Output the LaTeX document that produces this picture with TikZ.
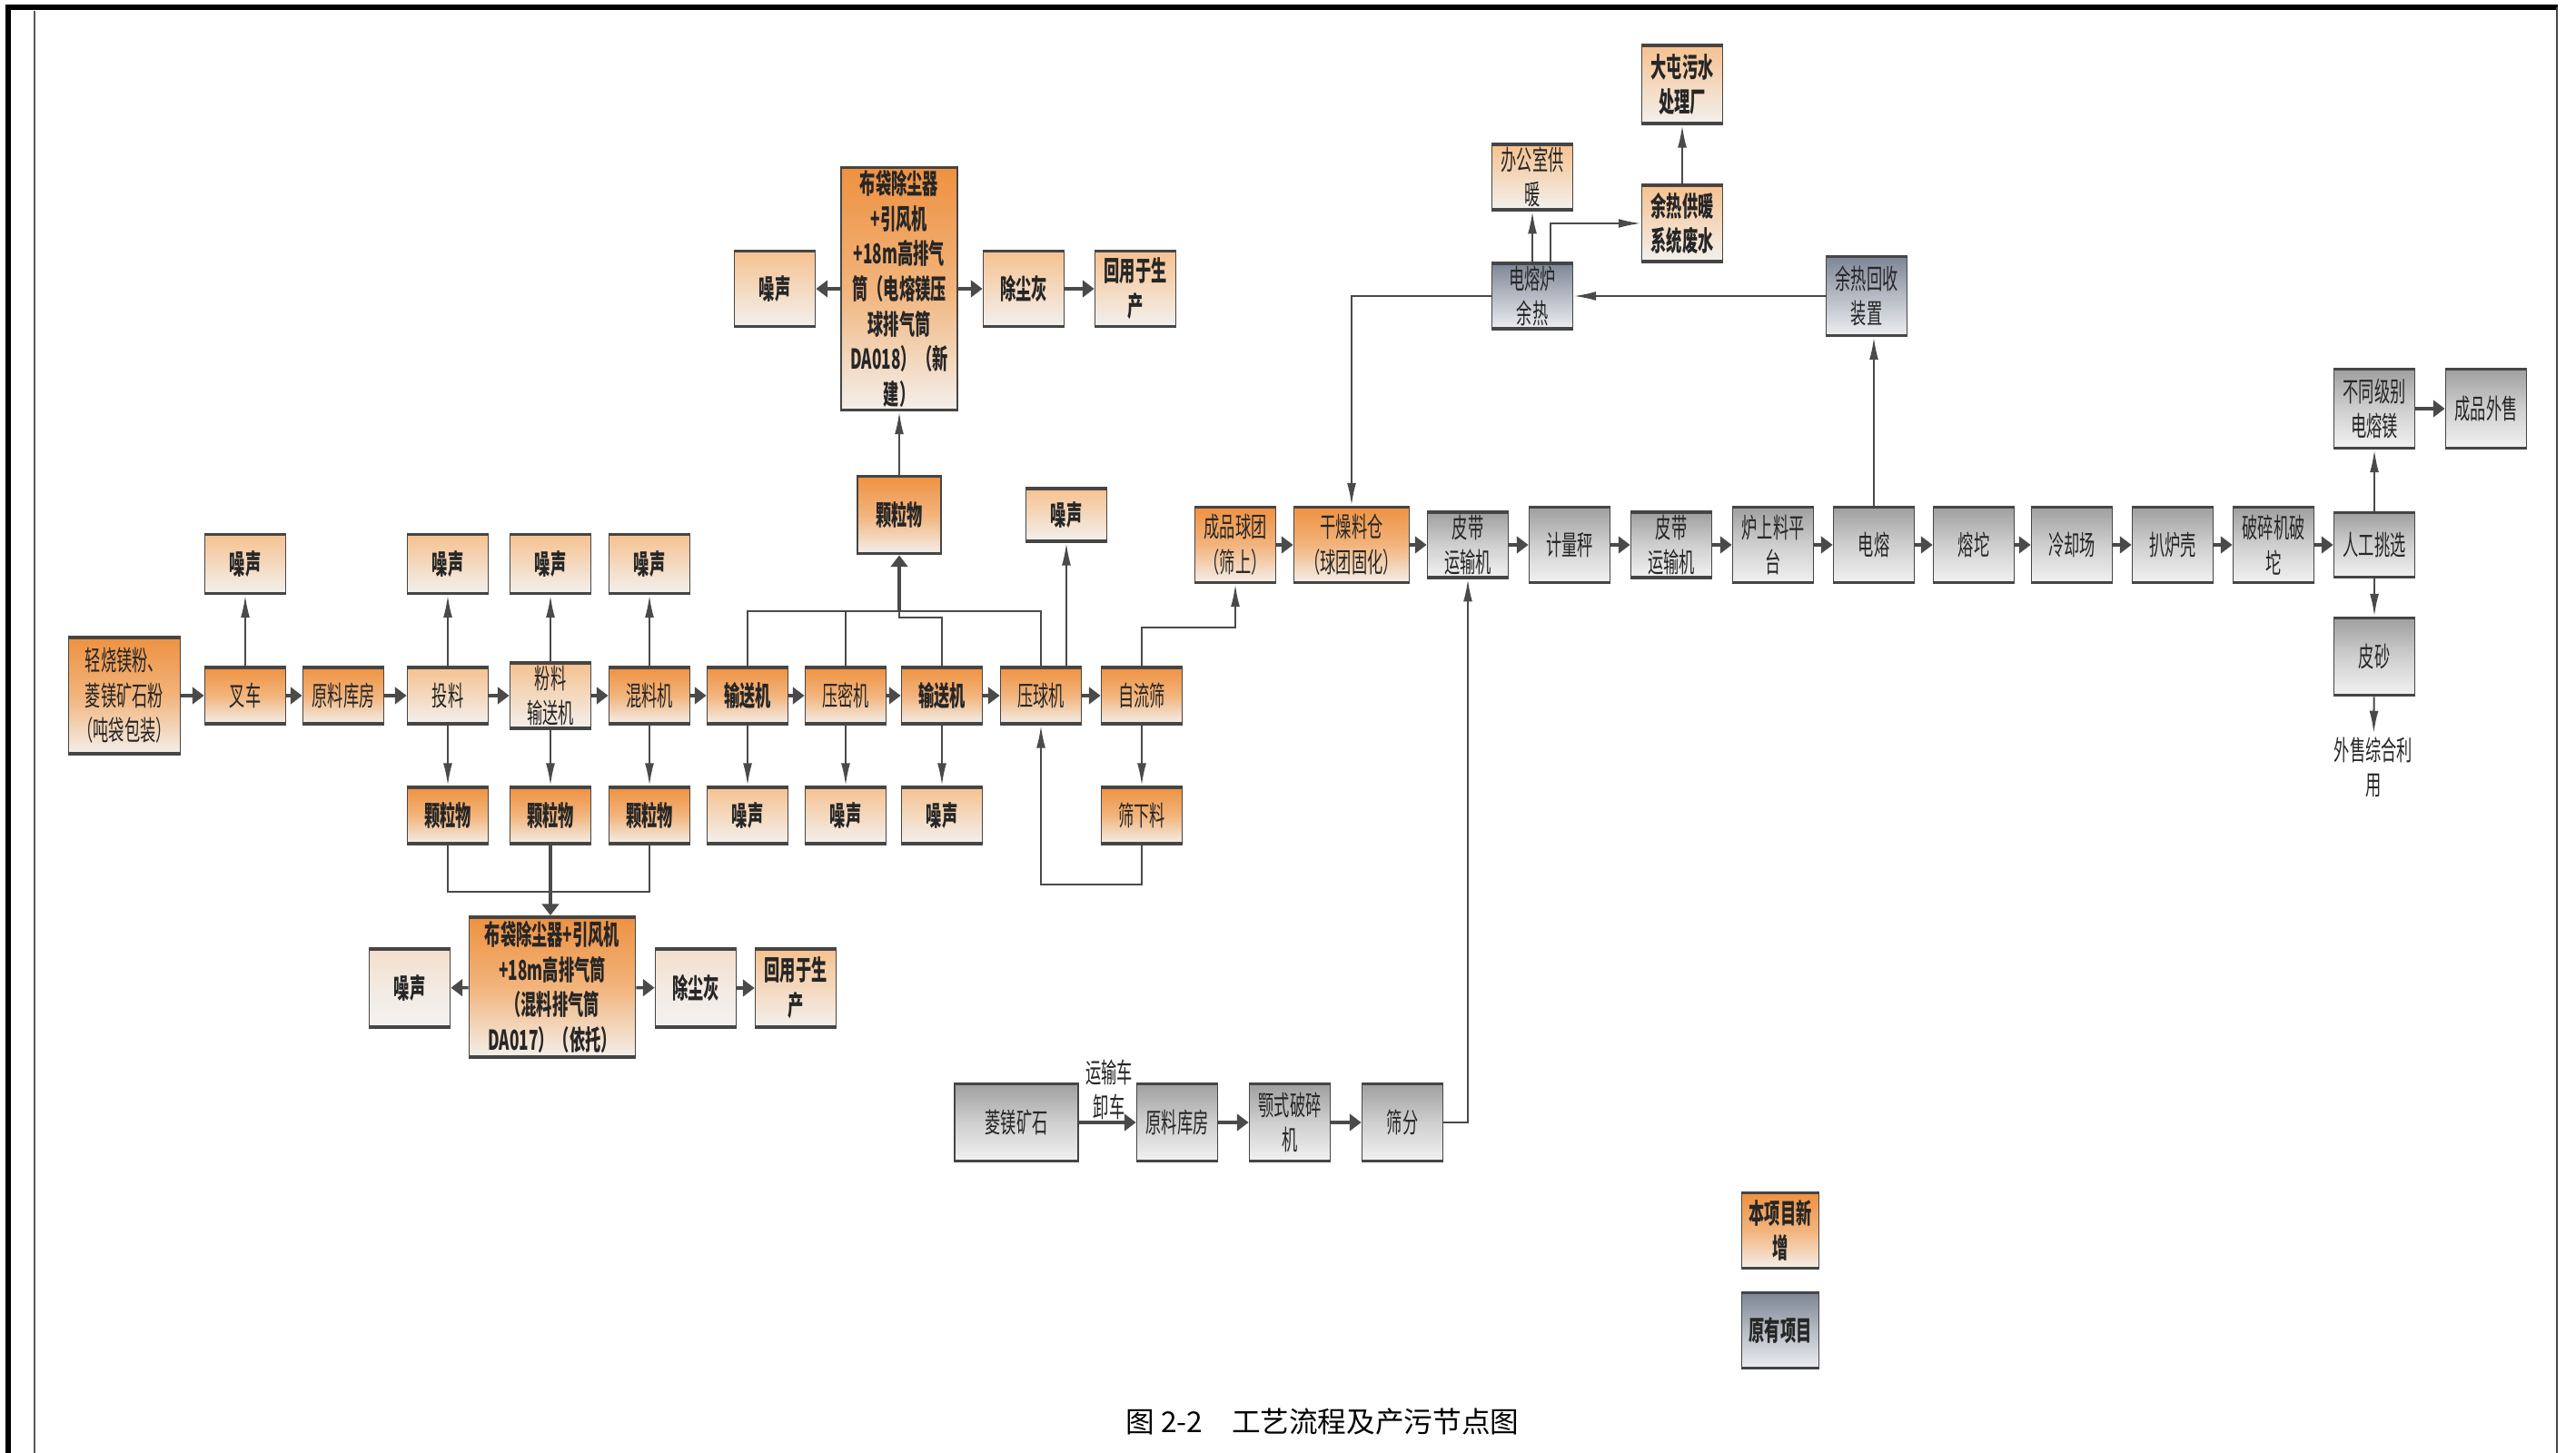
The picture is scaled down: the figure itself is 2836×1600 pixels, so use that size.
\documentclass[tikz,border=0pt]{standalone}
\usepackage{fontspec}
\setmainfont{Noto Sans CJK SC}[FakeStretch=0.57]
\newfontfamily\capfont{Noto Sans CJK SC}
\usetikzlibrary{arrows.meta, calc}
\definecolor{mEdge}{HTML}{454545}
\definecolor{mLine}{HTML}{4A4A4A}
\definecolor{mText}{HTML}{262626}
\definecolor{mOrgTop}{HTML}{EE9140}
\definecolor{mOrgMid}{HTML}{F2B47C}
\definecolor{mOrgBot}{HTML}{F3F0EC}
\definecolor{mLtTop}{HTML}{F6C18E}
\definecolor{mLtMid}{HTML}{F4D9BF}
\definecolor{mLtBot}{HTML}{F3F1EF}
\definecolor{mPaleTop}{HTML}{F4DECB}
\definecolor{mPaleMid}{HTML}{F3EAE2}
\definecolor{mPaleBot}{HTML}{F3F2F1}
\definecolor{mGrayTop}{HTML}{9E9E9E}
\definecolor{mGrayMid}{HTML}{CFCFCF}
\definecolor{mGrayBot}{HTML}{F2F2F2}
\definecolor{mSlateTop}{HTML}{7C8494}
\definecolor{mSlateMid}{HTML}{B6BBC4}
\definecolor{mSlateBot}{HTML}{EEEFF2}

\begin{document}
\begin{tikzpicture}[x=0.01cm, y=-0.01cm,
  box/.style={draw=mEdge, line width=0.5pt, minimum width=0.89cm, minimum height=0.64cm,
              inner sep=1pt, align=center, text=mText, font=\fontsize{8.6}{11}\selectfont,
              path picture={\draw[mEdge, line width=1.6pt]
                (path picture bounding box.north west) -- (path picture bounding box.north east)
                (path picture bounding box.south west) -- (path picture bounding box.south east);}},
  neworg/.style={box, top color=mOrgTop, bottom color=mOrgBot, middle color=mOrgMid},
  newlt/.style={box, top color=mLtTop, bottom color=mLtBot, middle color=mLtMid},
  newpale/.style={box, top color=mPaleTop, bottom color=mPaleBot, middle color=mPaleMid},
  oldgray/.style={box, top color=mGrayTop, bottom color=mGrayBot, middle color=mGrayMid},
  oldslate/.style={box, top color=mSlateTop, bottom color=mSlateBot, middle color=mSlateMid},
  bf/.style={font=\fontsize{8.6}{11}\selectfont\bfseries},
  lbl/.style={align=center, inner sep=1pt, text=mText, font=\fontsize{8.6}{11}\selectfont},
  flow/.style={mLine, line width=1pt, -{Triangle[length=3.6pt, width=5.2pt]}},
  link/.style={mLine, line width=0.6pt, -{Latex[length=7pt, width=2.8pt]}},
  wire/.style={mLine, line width=0.6pt},
]
\useasboundingbox (0,0) rectangle (2836,1600);

% frame
\draw[black, line width=1.6pt] (9,1600) -- (9,8) -- (2816,8);
\draw[black!65, line width=0.5pt] (38,12) -- (38,1600);
\draw[mEdge, line width=0.6pt] (2815,8) -- (2815,1600);

% main row
\node[neworg, minimum width=1.23cm, minimum height=1.30cm] (src) at (137,766) {轻烧镁粉、\\菱镁矿石粉\\（吨袋包装）};
\node[neworg] (cha)  at (270,766)  {叉车};
\node[neworg] (ylkf) at (378,766)  {原料库房};
\node[newlt]  (tl)   at (493,766)  {投料};
\node[newlt]  (flss) at (606,766)  {粉料\\输送机};
\node[neworg] (hlj)  at (715,766)  {混料机};
\node[neworg, bf] (ssj1) at (823,766) {输送机};
\node[neworg] (ymj)  at (931,766)  {压密机};
\node[neworg, bf] (ssj2) at (1037,766) {输送机};
\node[neworg] (yqj)  at (1146,766) {压球机};
\node[neworg] (zls)  at (1257,766) {自流筛};

% noise above
\node[newlt, bf, minimum height=0.67cm] (zsc) at (270,621) {噪声};
\node[newlt, bf, minimum height=0.67cm] (zst) at (493,621) {噪声};
\node[newlt, bf, minimum height=0.67cm] (zsf) at (606,621) {噪声};
\node[newlt, bf, minimum height=0.67cm] (zsh) at (715,621) {噪声};
\node[newlt, bf, minimum height=0.60cm] (zsq) at (1174,567) {噪声};

% row below
\node[neworg, bf] (kl1) at (493,898) {颗粒物};
\node[neworg, bf] (kl2) at (606,898) {颗粒物};
\node[neworg, bf] (kl3) at (715,898) {颗粒物};
\node[newlt, bf] (zss1) at (823,898)  {噪声};
\node[newlt, bf] (zsm)  at (931,898)  {噪声};
\node[newlt, bf] (zss2) at (1037,898) {噪声};
\node[neworg] (sxl) at (1257,898) {筛下料};

% DA017
\node[neworg, bf, minimum width=1.83cm, minimum height=1.56cm] (da17) at (608,1087)
  {布袋除尘器+引风机\\+18m高排气筒\\（混料排气筒\\DA017）（依托）};
\node[newpale, bf, minimum height=0.88cm] (zs17)  at (451,1088) {噪声};
\node[newpale, bf, minimum height=0.88cm] (cch17) at (766,1088) {除尘灰};
\node[newlt, bf, minimum height=0.88cm]   (hy17)  at (876,1088) {回用于生\\产};

% DA018
\node[neworg, bf, minimum width=1.28cm, minimum height=2.69cm] (da18) at (990,318)
  {布袋除尘器\\+引风机\\+18m高排气\\筒（电熔镁压\\球排气筒\\DA018）（新\\建）};
\node[newlt, bf, minimum height=0.85cm] (zs18)  at (853,318)  {噪声};
\node[newlt, bf, minimum height=0.85cm] (cch18) at (1127,318) {除尘灰};
\node[newlt, bf, minimum height=0.85cm] (hy18)  at (1250,318) {回用于生\\产};
\node[neworg, bf, minimum width=0.92cm, minimum height=0.87cm] (kl18) at (990,567) {颗粒物};

% right chain
\node[neworg, minimum height=0.85cm] (cpqt) at (1360,600) {成品球团\\（筛上）};
\node[neworg, minimum width=1.27cm, minimum height=0.85cm] (gzlc) at (1488,600) {干燥料仓\\（球团固化）};
\node[oldgray, minimum height=0.67cm] (pd1) at (1616,600) {皮带\\运输机};
\node[oldgray, minimum height=0.85cm] (jlc) at (1728,600) {计量秤};
\node[oldgray, minimum height=0.67cm] (pd2) at (1840,600) {皮带\\运输机};
\node[oldgray, minimum height=0.85cm] (lsl) at (1952,600) {炉上料平\\台};
\node[oldgray, minimum height=0.85cm] (dr)  at (2063,600) {电熔};
\node[oldgray, minimum height=0.85cm] (rt)  at (2173,600) {熔坨};
\node[oldgray, minimum height=0.85cm] (lqc) at (2281,600) {冷却场};
\node[oldgray, minimum height=0.85cm] (plk) at (2392,600) {扒炉壳};
\node[oldgray, minimum height=0.85cm] (psj) at (2503,600) {破碎机破\\坨};
\node[oldgray, minimum height=0.73cm] (rgtx) at (2614,600) {人工挑选};
\node[oldgray, minimum height=0.89cm] (btjb) at (2614,450) {不同级别\\电熔镁};
\node[oldgray, minimum height=0.89cm] (cpws) at (2737,450) {成品外售};
\node[oldgray, minimum height=0.87cm] (ps)   at (2614,723) {皮砂};
\node[lbl] (wszh) at (2613,845) {外售综合利\\用};

% waste heat
\node[oldslate, minimum height=0.73cm] (drlyr) at (1687,326) {电熔炉\\余热};
\node[oldslate, minimum height=0.89cm] (yrhs)  at (2055,326) {余热回收\\装置};
\node[newlt, minimum height=0.71cm] (bgs)  at (1687,195) {办公室供\\暖};
\node[newlt, bf, minimum height=0.86cm] (yrgn) at (1852,246) {余热供暖\\系统废水};
\node[newlt, bf, minimum height=0.88cm] (dt)   at (1852,93)  {大屯污水\\处理厂};

% ore line
\node[oldgray, minimum width=1.36cm, minimum height=0.87cm] (lkks) at (1119,1236) {菱镁矿石};
\node[oldgray, minimum height=0.87cm] (ylkf2) at (1296,1236) {原料库房};
\node[oldgray, minimum height=0.87cm] (eps)   at (1420,1236) {颚式破碎\\机};
\node[oldgray, minimum height=0.87cm] (sf)    at (1544,1236) {筛分};
\node[lbl] (ysc) at (1221,1200) {运输车\\卸车};

% legend
\node[neworg, bf, minimum width=0.85cm, minimum height=0.85cm] (lgnew) at (1960,1355) {本项目新\\增};
\node[oldslate, bf, minimum width=0.85cm, minimum height=0.85cm] (lgold) at (1960,1465) {原有项目};

\node[font=\capfont\fontsize{9}{11}\selectfont, text=black] (cap) at (1456,1566) {图 2-2\quad 工艺流程及产污节点图};

% flow arrows
\foreach \a/\b in {src/cha, cha/ylkf, ylkf/tl, tl/flss, flss/hlj, hlj/ssj1, ssj1/ymj,
                   ymj/ssj2, ssj2/yqj, yqj/zls}
  \draw[flow] (\a) -- (\b);
\foreach \a/\b in {cpqt/gzlc, gzlc/pd1, pd1/jlc, jlc/pd2, pd2/lsl, lsl/dr, dr/rt, rt/lqc,
                   lqc/plk, plk/psj, psj/rgtx, btjb/cpws, lkks/ylkf2, ylkf2/eps, eps/sf}
  \draw[flow] (\a) -- (\b);

% noise and dust
\foreach \a/\b in {cha/zsc, tl/zst, flss/zsf, hlj/zsh, tl/kl1, flss/kl2, hlj/kl3,
                   ssj1/zss1, ymj/zsm, ssj2/zss2, zls/sxl}
  \draw[link] (\a) -- (\b);
\draw[link] (yqj.north -| zsq.south) -- (zsq.south);

% DA017
\coordinate (bus17) at (606,982);
\draw[wire] (kl1.south) |- (kl3.south |- bus17) -- (kl3.south);
\draw[flow] (kl2.south) -- (kl2.south |- da17.north);
\draw[flow] (da17) -- (zs17);
\draw[flow] (da17) -- (cch17);
\draw[flow] (cch17) -- (hy17);

% DA018
\coordinate (bus18) at (990,673);
\draw[wire] (ssj1.north) |- (yqj.north |- bus18) -- (yqj.north);
\draw[wire] (ymj.north) -- (ymj.north |- bus18);
\draw[wire] (ssj2.north) |- ($(bus18)+(0,7)$) -- (bus18);
\draw[flow] (bus18) -- (kl18.south);
\draw[link] (kl18) -- (da18);
\draw[flow] (da18) -- (zs18);
\draw[flow] (da18) -- (cch18);
\draw[flow] (cch18) -- (hy18);

% return and screen
\draw[link] (sxl.south) -- ++(0,43) -| (yqj.south);
\draw[link] (zls.north) -- ++(0,-42) -| (cpqt.south);

% heat
\draw[link] (dr.north) -- (dr.north |- yrhs.south);
\draw[link] (yrhs) -- (drlyr);
\draw[link] (drlyr.west) -| (gzlc.north);
\draw[link] (drlyr) -- (bgs);
\draw[link] ([xshift=0.2cm]drlyr.north) |- (yrgn.west);
\draw[link] (yrgn) -- (dt);

% sorting
\draw[link] (rgtx) -- (btjb);
\draw[link] (rgtx) -- (ps);
\draw[link] (ps) -- (wszh);

% ore to belt
\draw[link] (sf.east) -| (pd1.south);
\end{tikzpicture}
\end{document}
